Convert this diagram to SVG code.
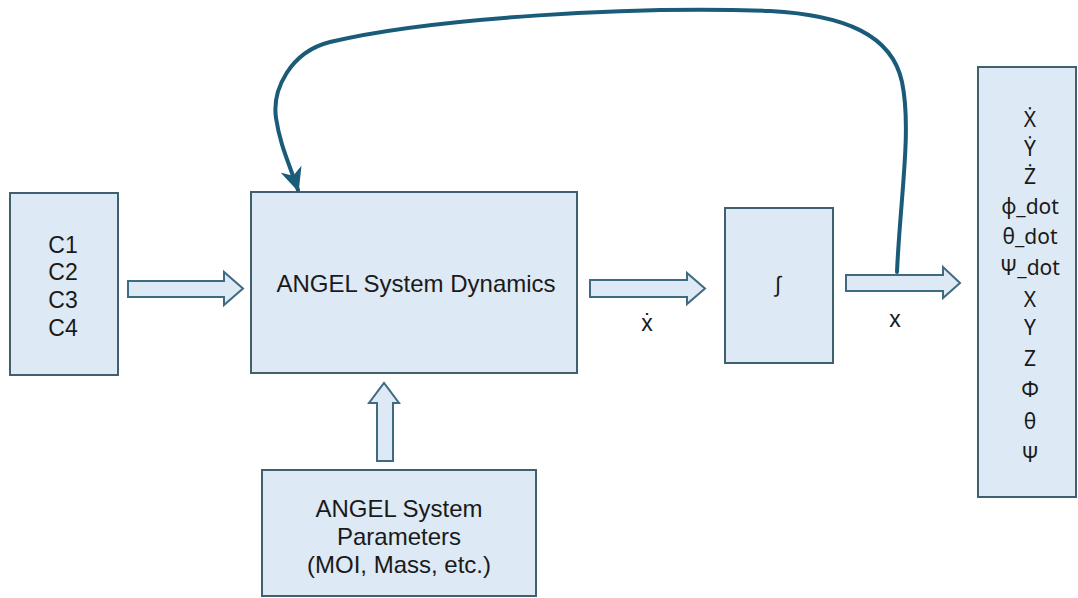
<svg xmlns="http://www.w3.org/2000/svg" width="1078" height="598" viewBox="0 0 1078 598">
  <defs>
    <style>
      .box { fill: #dde9f4; stroke: #41606f; stroke-width: 2; }
      .barrow { fill: #dde9f4; stroke: #3f6a82; stroke-width: 2; stroke-linejoin: miter; }
      .lbl { font-family: "Liberation Sans", Arial, sans-serif; font-size: 23px; fill: #1a1a1a; text-anchor: middle; }
      .state { font-family: "Noto Sans", "DejaVu Sans", sans-serif; font-size: 21px; fill: #1a1a1a; text-anchor: middle; }
      .feedback { fill: none; stroke: #1b5b7a; stroke-width: 4; stroke-linecap: round; }
    </style>
    <marker id="head" viewBox="0 0 24 22" refX="22" refY="11" markerWidth="24" markerHeight="22" markerUnits="userSpaceOnUse" orient="auto">
      <path d="M0,0 L24,11 L0,22 L7,11 z" fill="#1b5b7a"/>
    </marker>
  </defs>

  <rect width="1078" height="598" fill="#ffffff"/>

  <!-- control inputs -->
  <g id="inputs">
    <rect class="box" x="10" y="193" width="108" height="182"/>
    <text class="lbl" x="63" y="253">C1</text>
    <text class="lbl" x="63" y="280">C2</text>
    <text class="lbl" x="63" y="308">C3</text>
    <text class="lbl" x="63" y="336">C4</text>
  </g>

  <!-- dynamics block -->
  <g id="dynamics">
    <rect class="box" x="251" y="192" width="326" height="181"/>
    <text class="lbl" x="416" y="292" style="font-size:24px">ANGEL System Dynamics</text>
  </g>

  <!-- integrator -->
  <g id="integrator">
    <rect class="box" x="725" y="208" width="108" height="155"/>
    <text class="lbl" x="778" y="292" style="font-size:22px">∫</text>
  </g>

  <!-- parameters block -->
  <g id="parameters">
    <rect class="box" x="262" y="470" width="274" height="126"/>
    <text class="lbl" x="399" y="517" style="font-size:24px">ANGEL System</text>
    <text class="lbl" x="399" y="545" style="font-size:24px">Parameters</text>
    <text class="lbl" x="399" y="573" style="font-size:24px">(MOI, Mass, etc.)</text>
  </g>

  <!-- state vector -->
  <g id="states">
    <rect class="box" x="978" y="67" width="98" height="430"/>
    <text class="state" x="1030" y="127">Ẋ</text>
    <text class="state" x="1030" y="156">Ẏ</text>
    <text class="state" x="1030" y="184">Ż</text>
    <text class="state" x="1030" y="214">ϕ_dot</text>
    <text class="state" x="1030" y="244">θ_dot</text>
    <text class="state" x="1030" y="275">Ψ_dot</text>
    <text class="state" x="1030" y="307">X</text>
    <text class="state" x="1030" y="335">Y</text>
    <text class="state" x="1030" y="366">Z</text>
    <text class="state" x="1030" y="397">Φ</text>
    <text class="state" x="1030" y="429">θ</text>
    <text class="state" x="1030" y="462">Ψ</text>
  </g>

  <!-- connectors -->
  <g id="connectors">
    <polygon class="barrow" points="128,281 224,281 224,272 243,288.5 224,305 224,297 128,297"/>
    <polygon class="barrow" points="590,280 687,280 687,273 705,288.5 687,304 687,297 590,297"/>
    <polygon class="barrow" points="846,275 943,275 943,267 960,283 943,298 943,291 846,291"/>
    <polygon class="barrow" points="377,461 377,403 369,403 384,383 399,403 393,403 393,461"/>
    <path class="feedback" marker-end="url(#head)" d="M897,272 C900,200 912,130 902,82 C892,35 845,15 770,11 C630,6 430,18 330,42 C290,52 272,90 276,118 C280,145 289,163 298,190"/>
    <text class="lbl" x="647" y="331">ẋ</text>
    <text class="lbl" x="895" y="327">x</text>
  </g>
</svg>
